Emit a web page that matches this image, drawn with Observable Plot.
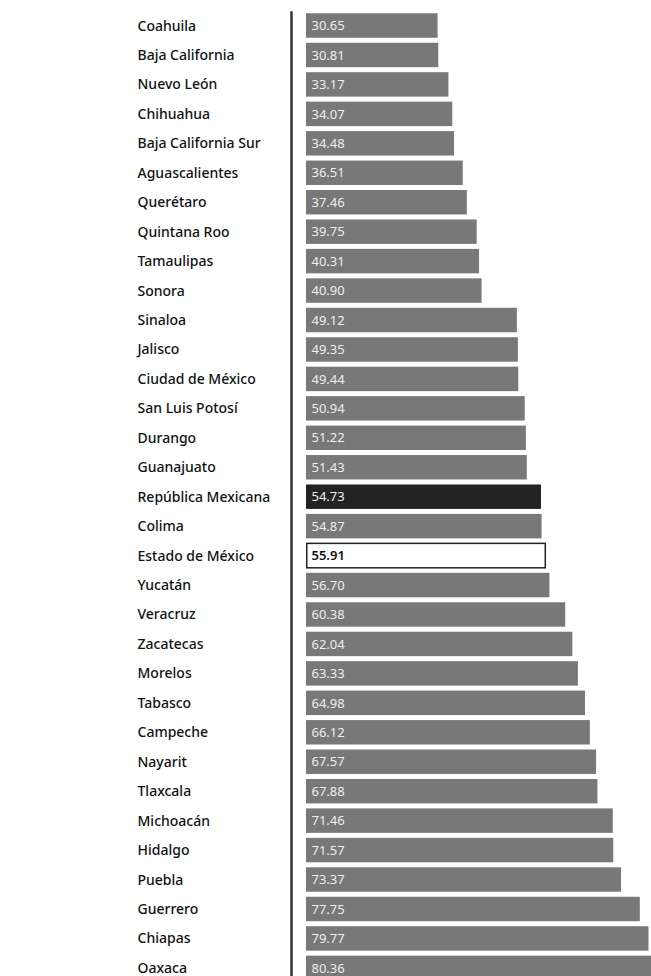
<!DOCTYPE html>
<html>
<head>
<meta charset="utf-8">
<script src="https://cdn.jsdelivr.net/npm/d3@7"></script>
<script src="https://cdn.jsdelivr.net/npm/@observablehq/plot@0.6"></script>
<style>
  html, body { margin: 0; padding: 0; background: #fff; }
  #chart svg { display: block; }
</style>
</head>
<body>
<div id="chart"></div>
<script>
const states = [
  "Coahuila", "Baja California", "Nuevo León", "Chihuahua", "Baja California Sur",
  "Aguascalientes", "Querétaro", "Quintana Roo", "Tamaulipas", "Sonora",
  "Sinaloa", "Jalisco", "Ciudad de México", "San Luis Potosí", "Durango",
  "Guanajuato", "República Mexicana", "Colima", "Estado de México", "Yucatán",
  "Veracruz", "Zacatecas", "Morelos", "Tabasco", "Campeche",
  "Nayarit", "Tlaxcala", "Michoacán", "Hidalgo", "Puebla",
  "Guerrero", "Chiapas", "Oaxaca"
];
const values = [
  30.65, 30.81, 33.17, 34.07, 34.48,
  36.51, 37.46, 39.75, 40.31, 40.90,
  49.12, 49.35, 49.44, 50.94, 51.22,
  51.43, 54.73, 54.87, 55.91, 56.70,
  60.38, 62.04, 63.33, 64.98, 66.12,
  67.57, 67.88, 71.46, 71.57, 73.37,
  77.75, 79.77, 80.36
];
const national = "República Mexicana";
const focus = "Estado de México";

const data = states.map((s, i) => ({ state: s, value: values[i] }));
const others = data.filter(d => d.state !== national && d.state !== focus);
const natData = data.filter(d => d.state === national);
const focusData = data.filter(d => d.state === focus);

const chart = Plot.plot({
  width: 651,
  height: 976,
  marginLeft: 291,
  marginRight: 0,
  marginTop: 12,
  marginBottom: 0,
  style: { fontFamily: "'Noto Sans', sans-serif", background: "#ffffff" },
  x: { type: "linear", domain: [0, 80.36], range: [306, 651], axis: null },
  y: { type: "band", domain: states, range: [10.8, 982.6], round: false, paddingInner: 0.17, paddingOuter: 0.085, label: null },
  marks: [
    Plot.barX(others, { x: "value", y: "state", fill: "#787878" }),
    Plot.barX(natData, { x: "value", y: "state", fill: "#232323" }),
    Plot.barX(focusData, { x: "value", y: "state", fill: "#ffffff", stroke: "#222", strokeWidth: 1.5, insetLeft: 0.75, insetRight: 0.75 }),
    Plot.text(others.concat(natData), {
      x: 0, y: "state", text: d => d.value.toFixed(2),
      textAnchor: "start", dx: 5, fill: "#eeeeee", fontSize: 13
    }),
    Plot.text(focusData, {
      x: 0, y: "state", text: d => d.value.toFixed(2),
      textAnchor: "start", dx: 5, fill: "#111111", fontSize: 13, fontWeight: 600
    }),
    Plot.axisY({
      tickSize: 0, tickPadding: 0, textAnchor: "start", dx: -154,
      fontSize: 14, fontWeight: 500, fill: "#111", label: null
    }),
    Plot.frame({ anchor: "left", stroke: "#333", strokeWidth: 2.5 })
  ]
});
document.getElementById("chart").appendChild(chart);
</script>
</body>
</html>
